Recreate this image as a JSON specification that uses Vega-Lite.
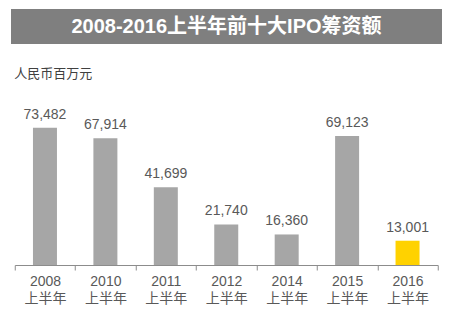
{
  "$schema": "https://vega.github.io/schema/vega-lite/v6.json",
  "padding": {"left": 11, "top": 9, "right": 12, "bottom": 0},
  "background": "white",
  "spacing": 24,
  "center": true,
  "config": {
    "view": {"stroke": null},
    "font": "Liberation Sans, Noto Sans CJK SC"
  },
  "datasets": {
    "ipo": [
      {"period": "2008上半年", "value": 73482, "hl": "n"},
      {"period": "2010上半年", "value": 67914, "hl": "n"},
      {"period": "2011上半年", "value": 41699, "hl": "n"},
      {"period": "2012上半年", "value": 21740, "hl": "n"},
      {"period": "2014上半年", "value": 16360, "hl": "n"},
      {"period": "2015上半年", "value": 69123, "hl": "n"},
      {"period": "2016上半年", "value": 13001, "hl": "y"}
    ]
  },
  "vconcat": [
    {
      "width": 431,
      "height": 35,
      "view": {"fill": "#7f7f7f", "stroke": null},
      "data": {"values": [{"title": "2008-2016上半年前十大IPO筹资额"}]},
      "mark": {"type": "text", "color": "white", "fontWeight": "bold", "fontSize": 20, "font": "Liberation Sans, Noto Sans CJK SC"},
      "encoding": {"text": {"field": "title"}}
    },
    {
      "width": 423,
      "height": 168,
      "data": {"name": "ipo"},
      "title": {"text": "人民币百万元", "anchor": "start", "fontSize": 13, "fontWeight": "normal", "color": "#404040", "offset": 16, "font": "Liberation Sans, Noto Sans CJK SC"},
      "encoding": {
        "x": {
          "field": "period", "type": "nominal", "sort": null,
          "scale": {"paddingInner": 0, "paddingOuter": 0},
          "axis": {
            "title": null, "labelAngle": 0, "tickBand": "extent",
            "domainColor": "#8c8c8c", "tickColor": "#8c8c8c", "tickSize": 5,
            "labelColor": "#595959", "labelFontSize": 14, "labelLineHeight": 17,
            "labelPadding": 4,
            "labelExpr": "isValid(datum.value) ? [substring(datum.value,0,4), substring(datum.value,4)] : ''"
          }
        },
        "y": {"field": "value", "type": "quantitative", "scale": {"domain": [0, 90000]}, "axis": null}
      },
      "layer": [
        {
          "mark": {"type": "bar", "width": 24},
          "encoding": {
            "color": {"field": "hl", "type": "nominal", "scale": {"domain": ["n", "y"], "range": ["#a6a6a6", "#ffd200"]}, "legend": null}
          }
        },
        {
          "mark": {"type": "text", "baseline": "bottom", "dy": -6, "fontSize": 14, "color": "#595959"},
          "encoding": {"text": {"field": "value", "type": "quantitative", "format": ","}}
        }
      ]
    }
  ]
}
